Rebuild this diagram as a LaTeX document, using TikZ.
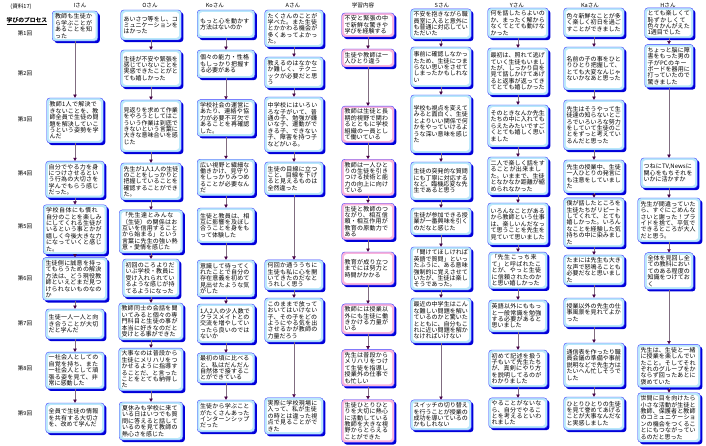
\documentclass[tikz,border=0pt]{standalone}
\usepackage{fontspec}
\newfontfamily\jp{Noto Sans CJK JP}
\usetikzlibrary{arrows.meta,shadows}
\XeTeXlinebreaklocale "ja"
\XeTeXlinebreakskip=0pt plus 1pt

\tikzset{
  box/.style={draw=blue!75, line width=.4pt, fill=cyan!28, rounded corners=3pt,
    inner sep=2.8pt, align=left, font=\jp\fontsize{6}{6.4}\selectfont,
    drop shadow={shadow xshift=2.1pt, shadow yshift=-2.1pt, fill=blue!85!black, opacity=1},
    path picture={\fill[white] ([shift={(2.1pt,-2.1pt)}]path picture bounding box.north west)
      rectangle ([shift={(-2.1pt,2.1pt)}]path picture bounding box.south east);}},
  pbox/.style={box, fill=magenta!30},
  link/.style={draw=gray!85!violet, line width=.6pt,
    -{Triangle[length=3.2pt,width=3.4pt,color=violet!55!black]}},
  rowlab/.style={font=\jp\fontsize{5.6}{6}\selectfont},
  collab/.style={font=\jp\fontsize{5.6}{6}\selectfont}
}

\begin{document}
\begin{tikzpicture}[x=1pt, y=-1pt, font=\jp]

    \useasboundingbox (0,0) rectangle (706,446);

    % Intestazione a sinistra
    \node[collab] (doc) at (21,7) {(資料17)};
    \node[font=\jp\bfseries\fontsize{5.8}{6}\selectfont] (proc) at (27,21) {\underline{学びのプロセス}};

    % Etichette delle righe
    \node[rowlab] (r1) at (25,33) {第1回};
    \node[rowlab] (r2) at (25,73) {第2回};
    \node[rowlab] (r3) at (25,119) {第3回};
    \node[rowlab] (r4) at (25,173) {第4回};
    \node[rowlab] (r5) at (25,226) {第5回};
    \node[rowlab] (r6) at (25,278) {第6回};
    \node[rowlab] (r7) at (25,323) {第7回};
    \node[rowlab] (r8) at (25,368) {第8回};
    \node[rowlab] (r9) at (25,413) {第9回};

    % Nomi delle colonne
    \node[collab] (hi) at (80,5) {Iさん};
    \node[collab] (ho) at (150,5) {Oさん};
    \node[collab] (hko) at (215,5) {Koさん};
    \node[collab] (ha) at (293,5) {Aさん};
    \node[collab] (hg) at (363,5) {学習内容};
    \node[collab] (hs) at (442,5) {Sさん};
    \node[collab] (hy) at (517,5) {Yさん};
    \node[collab] (hka) at (590,5) {Kaさん};
    \node[collab] (hh) at (668,5) {Hさん};

    % Colonna I
    \node[box, text width=40pt, minimum height=26pt] (i1) at (75,26) {教師も生徒から学ぶことがあることを知った};
    \node[box, text width=51pt, minimum height=45pt] (i2) at (75,120.5) {教師1人で解決できないことを、教師全員で生徒の問題を解決していこうという姿勢を学んだ};
    \node[box, text width=53pt, minimum height=35pt] (i3) at (75,179.5) {自分でやる力を身につけさせるという行為の大切さを学んでもらう感じだった。};
    \node[box, text width=58pt, minimum height=45pt] (i4) at (75,229.5) {学校自体にも慣れ自分のことを楽しみにしてくれる生徒がいるという事とかが嬉しく今後大きな力になっていくと感じた。};
    \node[box, text width=59pt, minimum height=40pt] (i5) at (75,279) {生徒側に誠意を持ってもらうための解決方法は、どう現役教師といえどまだ見つけられないものなのか};
    \node[box, text width=53pt, minimum height=30pt] (i6) at (75,324) {生徒一人一人と向き合うことが大切だと学んだ};
    \node[box, text width=53pt, minimum height=35pt] (i7) at (75,370.5) {一社会人としての自覚を持ち、また一社会人として頑張る姿を見て、非常に感動した};
    \node[box, text width=53pt, minimum height=30pt] (i8) at (75,418) {全員で生徒の情報を共有する大切さを、改めて学んだ};

    % Colonna O
    \node[box, text width=55pt, minimum height=30pt] (o1) at (151,25) {あいさつ等をし、コミュニケーションをはかった};
    \node[box, text width=55pt, minimum height=37pt] (o2) at (151,68.5) {生徒が不安や緊張を感じていないことを実感できたことがとても嬉しかった};
    \node[box, text width=55pt, minimum height=52pt] (o3) at (151,126) {見返りを求めて作業をやろうとしてはこういう作業は到底できないという言葉に大きな意味合いを感じた};
    \node[box, text width=55pt, minimum height=37pt] (o4) at (151,181.5) {先生が1人1人の生徒のことをしっかりと把握していることを確認することができた。};
    \node[box, text width=58pt, minimum height=43pt] (o5) at (151,231.5) {「先生達とみんな（生徒）の関係はお互いを信用することから始まる」という言葉に先生の強い熱意・愛情を感じた};
    \node[box, text width=51pt, minimum height=38pt] (o6) at (151,278) {初回のころよりだいぶ学校・教員に受け入れられているような感じが持てるようになった};
    \node[box, text width=59pt, minimum height=37pt] (o7) at (151,321.5) {教師同士の会話を聞いてみると個々の専門科目と生徒の事が本当に好きなのだと受けとる事ができた};
    \node[box, text width=59pt, minimum height=35pt] (o8) at (151,369.5) {大事なのは普段から生徒にメリハリをつかせるように指導することだ、と言ったことをとても納得した};
    \node[box, text width=58pt, minimum height=38pt] (o9) at (151,421) {夏休みも学校に来ている日はいつでも質問に答えると話しているのを見て教師の熱心さを感じた};

    % Colonna Ko
    \node[box, text width=52pt, minimum height=28pt] (ko1) at (226,24) {もっと心を動かす方法はないのか};
    \node[box, text width=52pt, minimum height=28pt] (ko2) at (226,64) {個々の能力・性格もしっかり把握する必要がある};
    \node[box, text width=52pt, minimum height=30pt] (ko3) at (226,118) {学校社会の運営にあたり、連絡や協力が必要不可欠であることを再確認した。};
    \node[box, text width=52pt, minimum height=31pt] (ko4) at (226,177.5) {広い視野と繊細な働きかけ、見守りをしっかりみつめることが必要なんだ};
    \node[box, text width=52pt, minimum height=35pt] (ko5) at (226,225.5) {生徒と教員は、相互に影響を及ぼし合うことを身をもって体験した};
    \node[box, text width=52pt, minimum height=37pt] (ko6) at (226,278.5) {意識して待ってくれたことで自分の存在意義を初めて見出せたような気がした};
    \node[box, text width=52pt, minimum height=39pt] (ko7) at (226,323.5) {1人2人の少人数でクラスメイトとの交流を増やしていったら良いのではないか};
    \node[box, text width=52pt, minimum height=30pt] (ko8) at (226,368) {最初の頃に比べると、私はだんだん自然体で接することができている};
    \node[box, text width=52pt, minimum height=32pt] (ko9) at (226,416) {生徒から学ぶことがたくさんあったインターンシップだった};

    % Colonna A
    \node[box, text width=53pt, minimum height=37pt] (a1) at (294,28.5) {たくさんのことが学べた。また生徒とかかわる機会が多くあってよかった。};
    \node[box, text width=53pt, minimum height=31pt] (a2) at (294,72.5) {教えるのはなかなか難しく、テクニックが必要だと思う};
    \node[box, text width=53pt, minimum height=55pt] (a3) at (294,124.5) {中学校にはいろいろな子がいて、普通の子、勉強が嫌いな子、運動ができる子、できない子、障害を持つ子などがいる。};
    \node[box, text width=53pt, minimum height=33pt] (a4) at (294,178.5) {生徒の目線に立つこと、目線を下げると見えるものは全然違った};
    \node[box, text width=53pt, minimum height=30pt] (a5) at (294,275) {何回か通ううちに生徒も私に心を開いてきたのだなとうれしく思う};
    \node[box, text width=53pt, minimum height=44pt] (a6) at (294,320) {このままで放っておいてはいけない子、その子をどのようにやる気を出させるかが教師の力量だろう};
    \node[box, text width=53pt, minimum height=32pt] (a7) at (294,416) {実際に学校現場に入って、私が生徒の時とは違った視点で見ることができた};

    % Colonna dei contenuti
    \node[pbox, text width=47pt, minimum height=24pt] (g1) at (368,25) {不安と緊張の中で新鮮な驚きや学びを経験する};
    \node[pbox, text width=47pt, minimum height=18pt] (g2) at (368,58) {生徒や教師は一人ひとり違う};
    \node[pbox, text width=47pt, minimum height=35pt] (g3) at (368,124.5) {教師は生徒と長期的視野で関わるとともに学校組織の一員として働いている};
    \node[pbox, text width=47pt, minimum height=31pt] (g4) at (368,177.5) {教師は一人ひとりの生徒を引きつける技術と能力の向上に向けている};
    \node[pbox, text width=47pt, minimum height=33pt] (g5) at (368,221.5) {生徒と教師のつながり、相互信頼・相互作用が教育の原動力である};
    \node[pbox, text width=47pt, minimum height=33pt] (g6) at (368,268.5) {教育が成り立つまでには努力と時間がかかる};
    \node[pbox, text width=47pt, minimum height=28pt] (g7) at (368,319) {教師には授業以外にも生徒に働きかける力量がいる};
    \node[pbox, text width=47pt, minimum height=30pt] (g8) at (368,368) {先生は普段からメリハリをつけて生徒を指導し授業外の仕事でも忙しい};
    \node[pbox, text width=47pt, minimum height=38pt] (g9) at (368,421) {生徒ひとりひとりを大切に熱心に活動している教師を大きな視野からとらえることができた};

    % Colonna S
    \node[box, text width=55pt, minimum height=28pt] (s1) at (441,24) {不安を抱きながら職員室に入ると意外にも普通に対応していただいた};
    \node[box, text width=55pt, minimum height=40pt] (s2) at (441,67) {事前に確認しなかったため、生徒につまらない思いをさせてしまったかもしれない};
    \node[box, text width=55pt, minimum height=58pt] (s3) at (441,124) {学校も視点を変えてみると面白く、生徒とよりいい関係で何かをやっていけるような深い意味を感じた};
    \node[box, text width=55pt, minimum height=38pt] (s4) at (441,181) {生徒の突発的な質問にも丁寧に対応するなど、臨機応変な先生であると思う};
    \node[box, text width=55pt, minimum height=27pt] (s5) at (441,221.5) {生徒が参加できる授業が一番興味を引くのだなと感じた};
    \node[box, text width=55pt, minimum height=43pt] (s6) at (441,268.5) {「聞けてほしければ英語で質問」といったふうに、ある意味強制的に覚えさせていたが、生徒は楽しそうであった。};
    \node[box, text width=55pt, minimum height=45pt] (s7) at (441,320.5) {最近の中学生はこんな難しい問題を解いているのかと驚いたとともに、自分もこれに近い問題を解かなければいけない};
    \node[box, text width=55pt, minimum height=30pt] (s8) at (441,415) {スイッチの切り替えを行うことが授業の成功を導いているのかもしれない};

    % Colonna Y
    \node[box, text width=55pt, minimum height=30pt] (y1) at (518,23) {何を話したらよいのか、まったく解からなくてとても動けなかった};
    \node[box, text width=55pt, minimum height=47pt] (y2) at (518,71.5) {最初は、照れて逃げていく生徒もいましたが、しっかり目を見て話しかけてあげると返事が返ってきてとても嬉しかった};
    \node[box, text width=55pt, minimum height=42pt] (y3) at (518,126) {そのときなんか先生たちの中に入れてもらえたみたいですごくとても嬉しく思いました};
    \node[box, text width=55pt, minimum height=38pt] (y4) at (518,176) {二人で楽しく話をすることが出来ました。いままで、生徒となかなか距離が縮められなかった};
    \node[box, text width=55pt, minimum height=42pt] (y5) at (518,224) {いろんなことがあるから教師という仕事は、楽しいんだなって思うことを先生を見ていて思いました};
    \node[box, text width=53pt, minimum height=35pt] (y6) at (518,270.5) {「先生こっち来て」と呼ばれたことが、やっと生徒に信頼されたのかと思い嬉しかった};
    \node[box, text width=53pt, minimum height=32pt] (y7) at (518,316) {英語以外にももっと一般常識を勉強する必要があると思いました};
    \node[box, text width=53pt, minimum height=37pt] (y8) at (518,368.5) {初めて記述を扱う子もいて先生たちが、真剣にやり方を説明してるのがわかりました};
    \node[box, text width=53pt, minimum height=30pt] (y9) at (518,413) {やることがないなら、自分でやることを考えるといわれました};

    % Colonna Ka
    \node[box, text width=55pt, minimum height=29pt] (ka1) at (594,22.5) {色々新鮮なことが多く楽しく初日を過ごすことができました};
    \node[box, text width=55pt, minimum height=43pt] (ka2) at (594,68.5) {名前の子の事をひとりひとり把握して、とても大変なんじゃないかなあと思った};
    \node[box, text width=55pt, minimum height=50pt] (ka3) at (594,125) {先生はそうやって生徒達の知らないところでいろいろな努力をしていて生徒のことをずっと考えているんだと思った};
    \node[box, text width=55pt, minimum height=33pt] (ka4) at (594,176.5) {先生の授業中、生徒一人ひとりの発言にも注意をしていました};
    \node[box, text width=55pt, minimum height=45pt] (ka5) at (594,222.5) {僕が話したところを生徒たちがリピートしてくれて、とても嬉しかった。いろんなことを経験した気持ちの中に染みました};
    \node[box, text width=55pt, minimum height=30pt] (ka6) at (594,270) {たまには先生も大きな声で怒鳴ることも必要だなと思いました};
    \node[box, text width=55pt, minimum height=29pt] (ka7) at (594,312.5) {授業以外の先生の仕事風景を見れてよかった};
    \node[box, text width=55pt, minimum height=44pt] (ka8) at (594,365) {通信表を作ったり職員会議の準備や事前説明などで先生方はたいへん忙しそうでした};
    \node[box, text width=55pt, minimum height=33pt] (ka9) at (594,413.5) {ひとりひとりの生徒を見て誉めてあげることが大事なんだなと実感しました};

    % Colonna H
    \node[box, text width=43pt, minimum height=30pt] (h1) at (669,23) {とても楽しくて恥ずかしくて色々かんがえた1週目でした};
    \node[box, text width=43pt, minimum height=38pt] (h2) at (669,66) {ちょっと脳に障害をもった男の子がPCのキーボードを器用に打っていたので驚きました};
    \node[box, text width=51pt, minimum height=30pt] (h3) at (669,173) {つねにTV,Newsに関心をもちそれをいかに活かすか};
    \node[box, text width=57pt, minimum height=44pt] (h4) at (669,220) {先生が間違っていたら、すぐにごめんなさいと謝った！プライドを捨て、平気でできるところが大人だと思う。};
    \node[box, text width=43pt, minimum height=32pt] (h5) at (669,271) {全体を見回し全ての教科においてのある程度の知識をつけておく};
    \node[box, text width=57pt, minimum height=42pt] (h6) at (669,366) {先生は、生徒と一緒に授業を楽しんでいたこと。そしてそれぞれのグループをかならず回ったあとに褒めていた};
    \node[box, text width=57pt, minimum height=45pt] (h7) at (669,417.5) {世間に目を向けたら小さな活動が生徒と教師、保護者と教師のコミュニケーションの機会をつくることにもつながっているのだと思った};

    % Frecce tra le caselle
    \foreach \c/\n in {i/8, o/9, ko/9, g/9, y/9, ka/9, a/7, s/8, h/7} {
        \foreach \k [remember=\k as \p (initially 1)] in {2,...,\n}
            \draw[link] (\c\p) -- (\c\k);
    }

\end{tikzpicture}
\end{document}
